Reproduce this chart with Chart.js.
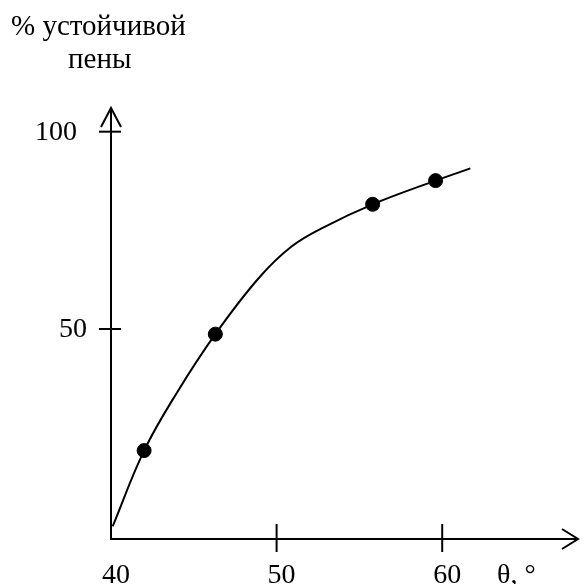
<!DOCTYPE html>
<html>
<head>
<meta charset="utf-8">
<script src="https://cdn.jsdelivr.net/npm/chart.js@4/dist/chart.umd.min.js"></script>
<style>
	body { margin: 0; background: #fff; }
	canvas { display: block; }
</style>
</head>
<body>
<canvas id="foam-chart" width="586" height="584"></canvas>
<script>
// Measured points: contact angle vs share of stable foam
var angle_points = [42.0, 46.3, 55.8, 59.6];
var foam_points = [19.2, 48.7, 81.6, 87.6];

// Trend curve drawn through the points
var curve_angle = [40.1, 42.0, 44.0, 46.3, 48.9, 50.9, 52.9, 55.8, 59.6, 61.7];
var curve_foam = [0, 19.2, 34.0, 48.7, 62.8, 70.9, 75.9, 81.6, 87.6, 90.7];

// Axis ticks
var x_ticks = [40, 50, 60];
var y_ticks = [50, 100];

var font = '"Liberation Serif", "Times New Roman", serif';

function toXY(xs, ys) {
	var out = [];
	for (var i = 0; i < xs.length; i++) {
		out.push({ x: xs[i], y: ys[i] });
	}
	return out;
}

// Axes with arrows, ticks and labels drawn by hand
var axesPlugin = {
	id: "axes",
	afterDraw: function(chart) {
		var ctx = chart.ctx;
		var xs = chart.scales.x;
		var ys = chart.scales.y;
		var x0 = xs.getPixelForValue(xs.min);
		var x1 = xs.getPixelForValue(xs.max);
		var y0 = ys.getPixelForValue(ys.min);
		var y1 = ys.getPixelForValue(ys.max);

		ctx.save();
		ctx.strokeStyle = "#000";
		ctx.lineWidth = 2;
		ctx.lineCap = "butt";

		ctx.beginPath();
		ctx.moveTo(x0, y0);
		ctx.lineTo(x1, y0);
		ctx.moveTo(x0, y0 + 1);
		ctx.lineTo(x0, y1);
		// arrow heads
		ctx.moveTo(x1 - 16, y0 - 10);
		ctx.lineTo(x1, y0);
		ctx.lineTo(x1 - 16, y0 + 10);
		ctx.moveTo(x0 - 10, y1 + 19);
		ctx.lineTo(x0, y1);
		ctx.lineTo(x0 + 10, y1 + 19);
		ctx.stroke();

		ctx.fillStyle = "#000";
		ctx.font = "28px " + font;

		// x ticks
		ctx.textAlign = "center";
		ctx.textBaseline = "alphabetic";
		for (var i = 0; i < x_ticks.length; i++) {
			var px = xs.getPixelForValue(x_ticks[i]);
			if (i > 0) {
				ctx.beginPath();
				ctx.moveTo(px, y0 - 15);
				ctx.lineTo(px, y0 + 13);
				ctx.stroke();
			}
			ctx.fillText(String(x_ticks[i]), px + 5, 583);
		}
		ctx.textAlign = "left";
		ctx.fillText("θ, °", 497, 583);

		// y ticks
		ctx.textAlign = "right";
		ctx.textBaseline = "middle";
		for (var j = 0; j < y_ticks.length; j++) {
			var py = ys.getPixelForValue(y_ticks[j]);
			ctx.beginPath();
			ctx.moveTo(x0 - 12, py);
			ctx.lineTo(x0 + 10, py);
			ctx.stroke();
			ctx.fillText(String(y_ticks[j]), y_ticks[j] == 100 ? 77 : 87, py + 1);
		}

		// y axis caption
		ctx.font = "29px " + font;
		ctx.textAlign = "left";
		ctx.textBaseline = "alphabetic";
		ctx.fillText("% устойчивой", 11, 35);
		ctx.fillText("пены", 68, 68);
		ctx.restore();
	}
};

var chart = new Chart(document.getElementById("foam-chart"), {
	type: "scatter",
	data: {
		datasets: [{
			type: "line",
			data: toXY(curve_angle, curve_foam),
			borderColor: "#000",
			borderWidth: 2,
			pointRadius: 0,
			tension: 0.4,
			fill: false
		}, {
			data: toXY(angle_points, foam_points),
			backgroundColor: "#000",
			borderColor: "#000",
			pointRadius: 7,
			pointHoverRadius: 7
		}]
	},
	options: {
		responsive: false,
		animation: false,
		events: [],
		layout: { padding: { left: 111, right: 4, top: 108, bottom: 45 } },
		plugins: { legend: { display: false }, tooltip: { enabled: false } },
		scales: {
			x: { type: "linear", min: 40, max: 68.2, display: false },
			y: { type: "linear", min: -3.2, max: 106, display: false }
		}
	},
	plugins: [axesPlugin]
});
</script>
</body>
</html>
